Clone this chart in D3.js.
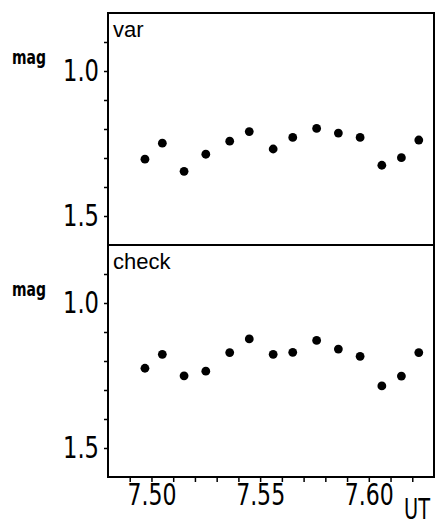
<!DOCTYPE html>
<html>
<head>
<meta charset="utf-8">
<script src="https://cdn.jsdelivr.net/npm/d3@7"></script>
<style>
  body { margin: 0; background: #fff; }
  .tick text { font-family: "DejaVu Sans", sans-serif; font-stretch: condensed; font-size: 30px; fill: #000; }
  .tick line { stroke: #000; stroke-width: 1.5; }
</style>
</head>
<body>
<svg id="chart" width="438" height="525"></svg>
<script>
// times (UT) of each observation, shared by both panels
var ut = [7.497, 7.505, 7.515, 7.525, 7.536, 7.545, 7.556, 7.565, 7.576, 7.586, 7.596, 7.606, 7.615, 7.623];
var varMag = [1.304, 1.249, 1.346, 1.287, 1.242, 1.209, 1.269, 1.229, 1.198, 1.214, 1.229, 1.325, 1.299, 1.238];
var checkMag = [1.225, 1.177, 1.251, 1.235, 1.171, 1.124, 1.177, 1.170, 1.129, 1.159, 1.184, 1.286, 1.252, 1.171];

var xTicks = [7.49, 7.50, 7.51, 7.52, 7.53, 7.54, 7.55, 7.56, 7.57, 7.58, 7.59, 7.60, 7.61, 7.62];
var xLabels = [7.50, 7.55, 7.60];
var yTicks = [0.9, 1.0, 1.1, 1.2, 1.3, 1.4, 1.5];
var yLabels = [1.0, 1.5];

var svg = d3.select("svg#chart"),
    frame = {left: 108, right: 434, top: 13, mid: 245, bottom: 477};

var x = d3.scaleLinear()
    .domain([7.48, 7.63])
    .range([frame.left, frame.right]);

function isLabel(list, d) {
  return list.some(function(v) { return Math.abs(v - d) < 1e-6; });
}

panels = [
  {name: "var", mags: varMag, y0: frame.top, y1: frame.mid},
  {name: "check", mags: checkMag, y0: frame.mid, y1: frame.bottom}
];

panels.forEach(function(p) {
  var y = d3.scaleLinear()
      .domain([0.8, 1.6])
      .range([p.y0, p.y1]);

  svg.append("g")
      .attr("transform", "translate(" + frame.left + ",0)")
      .call(d3.axisLeft(y)
        .tickValues(yTicks)
        .tickSize(4)
        .tickPadding(5)
        .tickFormat(function(d) { return isLabel(yLabels, d) ? d3.format(".1f")(d) : ""; }))
      .call(function(g) { g.select(".domain").remove(); })
    .selectAll(".tick text")
      .filter(function(d) { return isLabel(yLabels, d); })
      .attr("textLength", 36)
      .attr("lengthAdjust", "spacingAndGlyphs");

  svg.append("g")
    .selectAll("circle")
    .data(p.mags)
    .enter().append("circle")
      .attr("cx", function(d, i) { return x(ut[i]); })
      .attr("cy", function(d) { return y(d); })
      .attr("r", 4.4)
      .attr("fill", "#000");

  svg.append("text")
      .attr("x", frame.left + 5)
      .attr("y", p.y0 + 24)
      .attr("font-family", "Liberation Sans, Arial, sans-serif")
      .attr("font-size", 22)
      .text(p.name);

  svg.append("text")
      .attr("x", 12)
      .attr("y", y(1.0) - 7)
      .attr("font-family", "DejaVu Sans, sans-serif")
      .attr("font-weight", "bold")
      .attr("font-size", 19)
      .attr("textLength", 34)
      .attr("lengthAdjust", "spacingAndGlyphs")
      .text("mag");
});

svg.append("g")
    .attr("transform", "translate(0," + frame.bottom + ")")
    .call(d3.axisBottom(x)
      .tickValues(xTicks)
      .tickSize(5)
      .tickPadding(2)
      .tickFormat(function(d) { return isLabel(xLabels, d) ? d3.format(".2f")(d) : ""; }))
    .call(function(g) { g.select(".domain").remove(); })
  .selectAll(".tick text")
    .filter(function(d) { return isLabel(xLabels, d); })
    .attr("textLength", 49)
    .attr("lengthAdjust", "spacingAndGlyphs");

svg.append("text")
    .attr("x", 404)
    .attr("y", 519)
    .attr("font-family", "DejaVu Sans, sans-serif")
    .attr("font-size", 29)
    .attr("textLength", 26)
    .attr("lengthAdjust", "spacingAndGlyphs")
    .text("UT");

// frame and divider
svg.append("rect")
    .attr("x", frame.left)
    .attr("y", frame.top)
    .attr("width", frame.right - frame.left)
    .attr("height", frame.bottom - frame.top)
    .attr("fill", "none")
    .attr("stroke", "#000")
    .attr("stroke-width", 2);

svg.append("line")
    .attr("x1", frame.left)
    .attr("x2", frame.right)
    .attr("y1", frame.mid)
    .attr("y2", frame.mid)
    .attr("stroke", "#000")
    .attr("stroke-width", 2);
</script>
</body>
</html>
